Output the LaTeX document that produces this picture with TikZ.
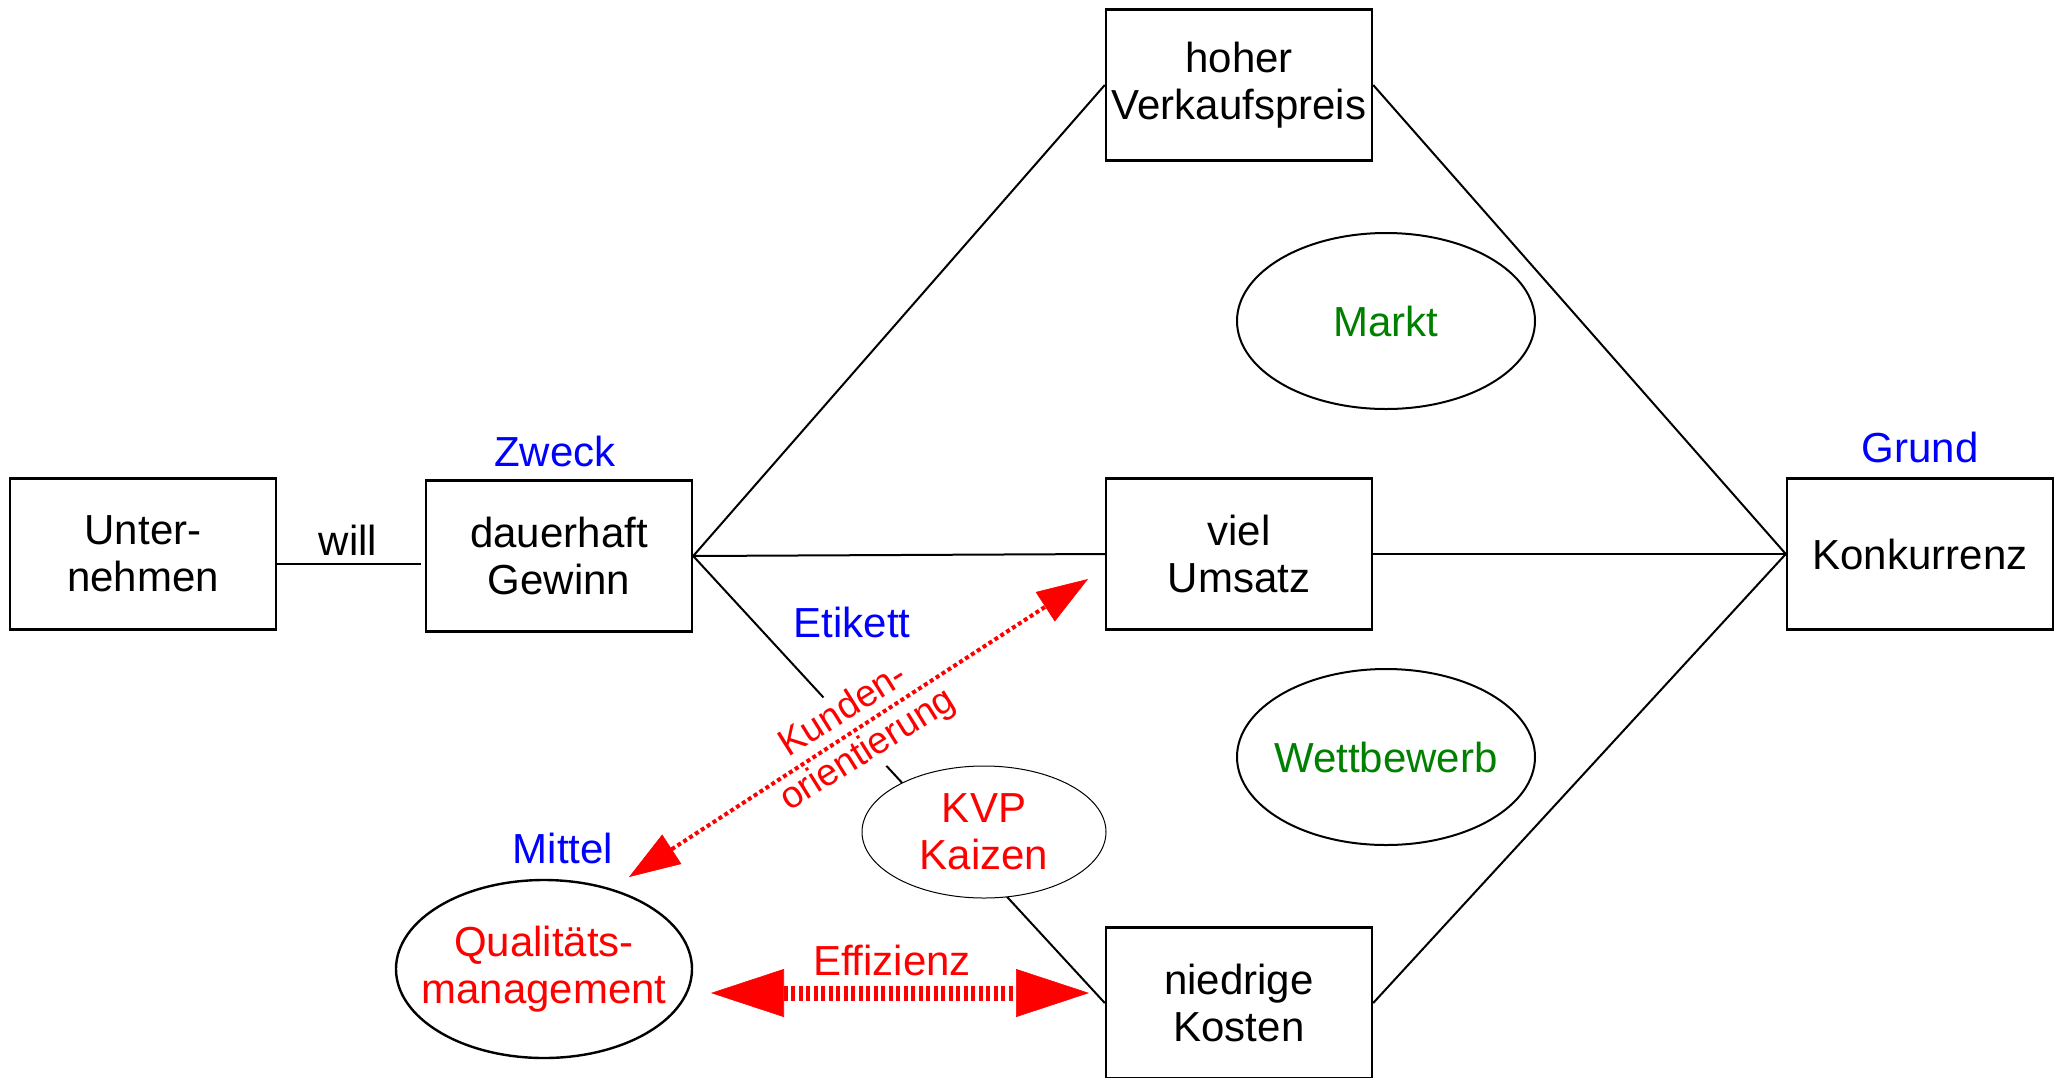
\documentclass[tikz,border=0pt]{standalone}
\usepackage{fontspec}
\setmainfont{Liberation Sans}
\usetikzlibrary{arrows.meta,shapes.geometric}
\definecolor{lblue}{RGB}{0,0,255}
\definecolor{lgreen}{RGB}{0,128,0}
\definecolor{lred}{RGB}{255,0,0}
\begin{document}
\begin{tikzpicture}[x=0.5pt,y=-0.5pt,
 txt/.style={font=\fontsize{21}{23.6}\selectfont},
 box/.style={txt,draw,line width=1.2pt,minimum width=133pt,minimum height=75.5pt,align=center,inner sep=0pt},
 ell/.style={txt,draw,ellipse,line width=1pt,fill=white,inner sep=0pt,align=center},
 lbl/.style={txt,inner sep=0pt},
 conn/.style={line width=1pt},
 bigtip/.tip={Triangle[length=25.5pt,width=17.5pt,line width=0.3pt]},
 hugetip/.tip={Triangle[length=36.5pt,width=24pt,line width=0.3pt]}]
\useasboundingbox[fill=white] (0,0) rectangle (2062,1077);
% boxes
\node[box] (unt) at (143,554) {Unter-\\nehmen};
\node[box] (gew) at (559,556) {dauerhaft\\Gewinn};
\node[box] (vkp) at (1239,85) {hoher\\Verkaufspreis};
\node[box] (ums) at (1239,554) {viel\\Umsatz};
\node[box] (kos) at (1239,1003) {niedrige\\Kosten};
\node[box] (kon) at (1920,554) {Konkurrenz};
% connectors
\coordinate (willend) at (421,564);
\draw[conn] (unt.east |- willend) -- (willend);
\draw[conn] (gew.east) -- (vkp.west);
\draw[conn] (gew.east) -- (ums.west);
\draw[conn] (gew.east) -- (kos.west);
\draw[conn] (vkp.east) -- (kon.west);
\draw[conn] (ums.east) -- (kon.west);
\draw[conn] (kos.east) -- (kon.west);
% ellipses
\node[ell,text=lgreen,minimum width=149pt,minimum height=88pt] (markt) at (1386,321) {Markt};
\node[ell,text=lgreen,inner xsep=-3.4pt,minimum width=149pt,minimum height=88pt] (wett) at (1386,757) {Wettbewerb};
\node[ell,text=lred,line width=0.5pt,minimum width=122pt,minimum height=66pt] (kvp) at (984,832) {KVP\\Kaizen};
\node[ell,text=lred,line width=1.2pt,inner xsep=-9.8pt,minimum width=148pt,minimum height=89pt] (qm) at (544,969) {Qualitäts-\\management};
% rotated label
\node[rotate=32,fill=white,text=lred,align=center,inner xsep=3pt,inner ysep=2.5pt,font=\fontsize{18.8}{23}\selectfont] (kund) at (856,731) {Kunden-\\orientierung};
% arrows
\coordinate (k1) at (629,877);
\coordinate (k2) at (1088,579);
\draw[lred,line width=2pt,dash pattern=on 2pt off 1.5pt,{bigtip}-{bigtip}] (k1) -- (k2);
\coordinate (e1) at (711,993);
\coordinate (e2) at (1089,993);
\draw[lred,line width=7.5pt,dash pattern=on 2pt off 1.75pt,{hugetip}-{hugetip}] (e1) -- (e2);
% labels
\node[lbl] (will) at (348,540) {will};
\node[lbl,text=lblue] (zweck) at (555,451) {Zweck};
\node[lbl,text=lblue] (grund) at (1920,447) {Grund};
\node[lbl,text=lblue] (etikett) at (852,622) {Etikett};
\node[lbl,text=lblue] (mittel) at (563,848) {Mittel};
\node[lbl,text=lred] (effizienz) at (892,960) {Effizienz};
\end{tikzpicture}
\end{document}
